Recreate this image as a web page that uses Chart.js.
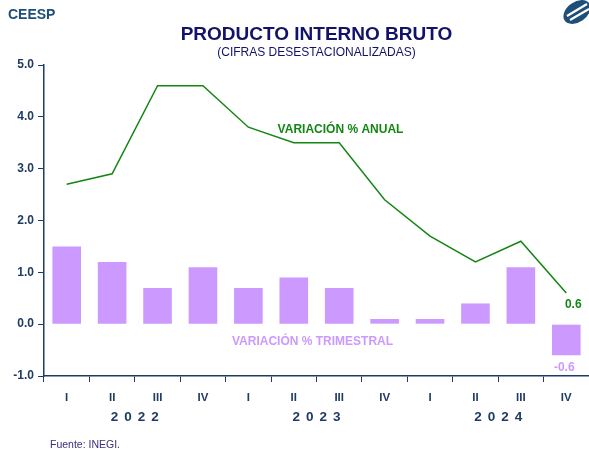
<!DOCTYPE html>
<html>
<head>
<meta charset="utf-8">
<script src="https://cdn.jsdelivr.net/npm/chart.js@4/dist/chart.umd.min.js"></script>
<style>
  html, body { margin: 0; padding: 0; background: #fff; }
  #wrap { position: relative; width: 589px; height: 453px; font-family: "Liberation Sans", Arial, sans-serif; }
  #pibChart { position: absolute; left: 0; top: 0; }
  .txt { position: absolute; white-space: nowrap; }
  #brand { left: 8px; top: 6px; font-size: 14px; font-weight: bold; color: #1f4e79; }
  #title { left: 0; width: 633px; top: 23px; text-align: center; font-size: 19px; font-weight: bold; color: #12126b; }
  #subtitle { left: 0; width: 633px; top: 45px; text-align: center; font-size: 12px; color: #12126b; }
  #source { left: 50px; top: 438px; font-size: 10.5px; color: #3a2f7a; }
  #logo { position: absolute; right: 0; top: 0; }
</style>
</head>
<body>
<div id="wrap">
  <canvas id="pibChart" width="589" height="453"></canvas>
  <div class="txt" id="brand">CEESP</div>
  <div class="txt" id="title">PRODUCTO INTERNO BRUTO</div>
  <div class="txt" id="subtitle">(CIFRAS DESESTACIONALIZADAS)</div>
  <div class="txt" id="source">Fuente: INEGI.</div>
  <svg id="logo" width="28" height="26" viewBox="0 0 28 26">
    <ellipse cx="16" cy="12" rx="15" ry="10" transform="rotate(-35 16 12)" fill="#1f4e79"/>
    <path d="M6 16 L26 4 M9 20 L28 9" stroke="#fff" stroke-width="2.2" fill="none"/>
  </svg>
</div>
<script>
// Quarterly GDP, seasonally adjusted
const quarters = ['I', 'II', 'III', 'IV', 'I', 'II', 'III', 'IV', 'I', 'II', 'III', 'IV'];
const years = ['2022', '2023', '2024'];
const quarterlyChange = [1.5, 1.2, 0.7, 1.1, 0.7, 0.9, 0.7, 0.1, 0.1, 0.4, 1.1, -0.6];
const annualChange = [2.7, 2.9, 4.6, 4.6, 3.8, 3.5, 3.5, 2.4, 1.7, 1.2, 1.6, 0.6];

const navy = '#1f3a64';
const green = '#138613';
const lilac = '#cc99ff';
const font = 'Liberation Sans, Arial, sans-serif';

// year labels under the quarter labels, centred on each group of four
const yearLabels = {
  id: 'yearLabels',
  afterDraw(chart) {
    const ctx = chart.ctx;
    const x = chart.scales.x;
    ctx.save();
    ctx.font = 'bold 13.5px ' + font;
    ctx.fillStyle = navy;
    ctx.textAlign = 'center';
    ctx.textBaseline = 'middle';
    if ('letterSpacing' in ctx) ctx.letterSpacing = '6px';
    years.forEach((yr, i) => {
      const cx = (x.getPixelForValue(i * 4 + 1) + x.getPixelForValue(i * 4 + 2)) / 2;
      ctx.fillText(yr, cx + 3, x.bottom - 36);
    });
    ctx.restore();
  }
};

// series names and the last values
const seriesLabels = {
  id: 'seriesLabels',
  afterDatasetsDraw(chart) {
    const ctx = chart.ctx;
    const x = chart.scales.x, y = chart.scales.y;
    const last = quarters.length - 1;
    const mid = (x.getPixelForValue(5) + x.getPixelForValue(6)) / 2;
    ctx.save();
    ctx.font = 'bold 12px ' + font;
    ctx.textAlign = 'center';
    ctx.textBaseline = 'middle';

    ctx.fillStyle = green;
    ctx.fillText('VARIACIÓN % ANUAL', mid + 24, y.getPixelForValue(3.75));
    ctx.fillStyle = lilac;
    ctx.fillText('VARIACIÓN % TRIMESTRAL', mid - 4, y.getPixelForValue(-0.33));

    ctx.fillStyle = green;
    ctx.fillText(annualChange[last].toFixed(1), x.getPixelForValue(last) + 7, y.getPixelForValue(annualChange[last]) + 12);
    ctx.fillStyle = lilac;
    ctx.fillText(quarterlyChange[last].toFixed(1), x.getPixelForValue(last) - 2, y.getPixelForValue(quarterlyChange[last]) + 12);
    ctx.restore();
  }
};

new Chart(document.getElementById('pibChart'), {
  data: {
    labels: quarters,
    datasets: [
      {
        type: 'line',
        label: 'Variación % anual',
        data: annualChange,
        borderColor: green,
        borderWidth: 1.5,
        pointRadius: 0,
        tension: 0,
        order: 0
      },
      {
        type: 'bar',
        label: 'Variación % trimestral',
        data: quarterlyChange,
        backgroundColor: lilac,
        borderWidth: 0,
        barPercentage: 0.63,
        categoryPercentage: 1,
        order: 1
      }
    ]
  },
  options: {
    responsive: false,
    animation: false,
    layout: { padding: { top: 65, left: 0, right: 0, bottom: 0 } },
    plugins: { legend: { display: false }, tooltip: { enabled: false } },
    scales: {
      x: {
        offset: true,
        grid: { offset: true, drawOnChartArea: false, tickLength: 6, color: navy, tickColor: navy },
        border: { color: navy, width: 1.5 },
        ticks: { color: navy, font: { family: font, size: 11.5, weight: 'bold' }, padding: 9, maxRotation: 0, autoSkip: false },
        afterFit(scale) { scale.height = 77; }
      },
      y: {
        min: -1,
        max: 5,
        grid: { drawOnChartArea: false, tickLength: 6, color: navy, tickColor: navy },
        border: { color: navy, width: 1.5 },
        ticks: {
          stepSize: 1,
          color: navy,
          padding: 4,
          font: { family: font, size: 12, weight: 'bold' },
          callback: v => v.toFixed(1)
        },
        afterFit(scale) { scale.width = 44; }
      }
    }
  },
  plugins: [yearLabels, seriesLabels]
});
</script>
</body>
</html>
